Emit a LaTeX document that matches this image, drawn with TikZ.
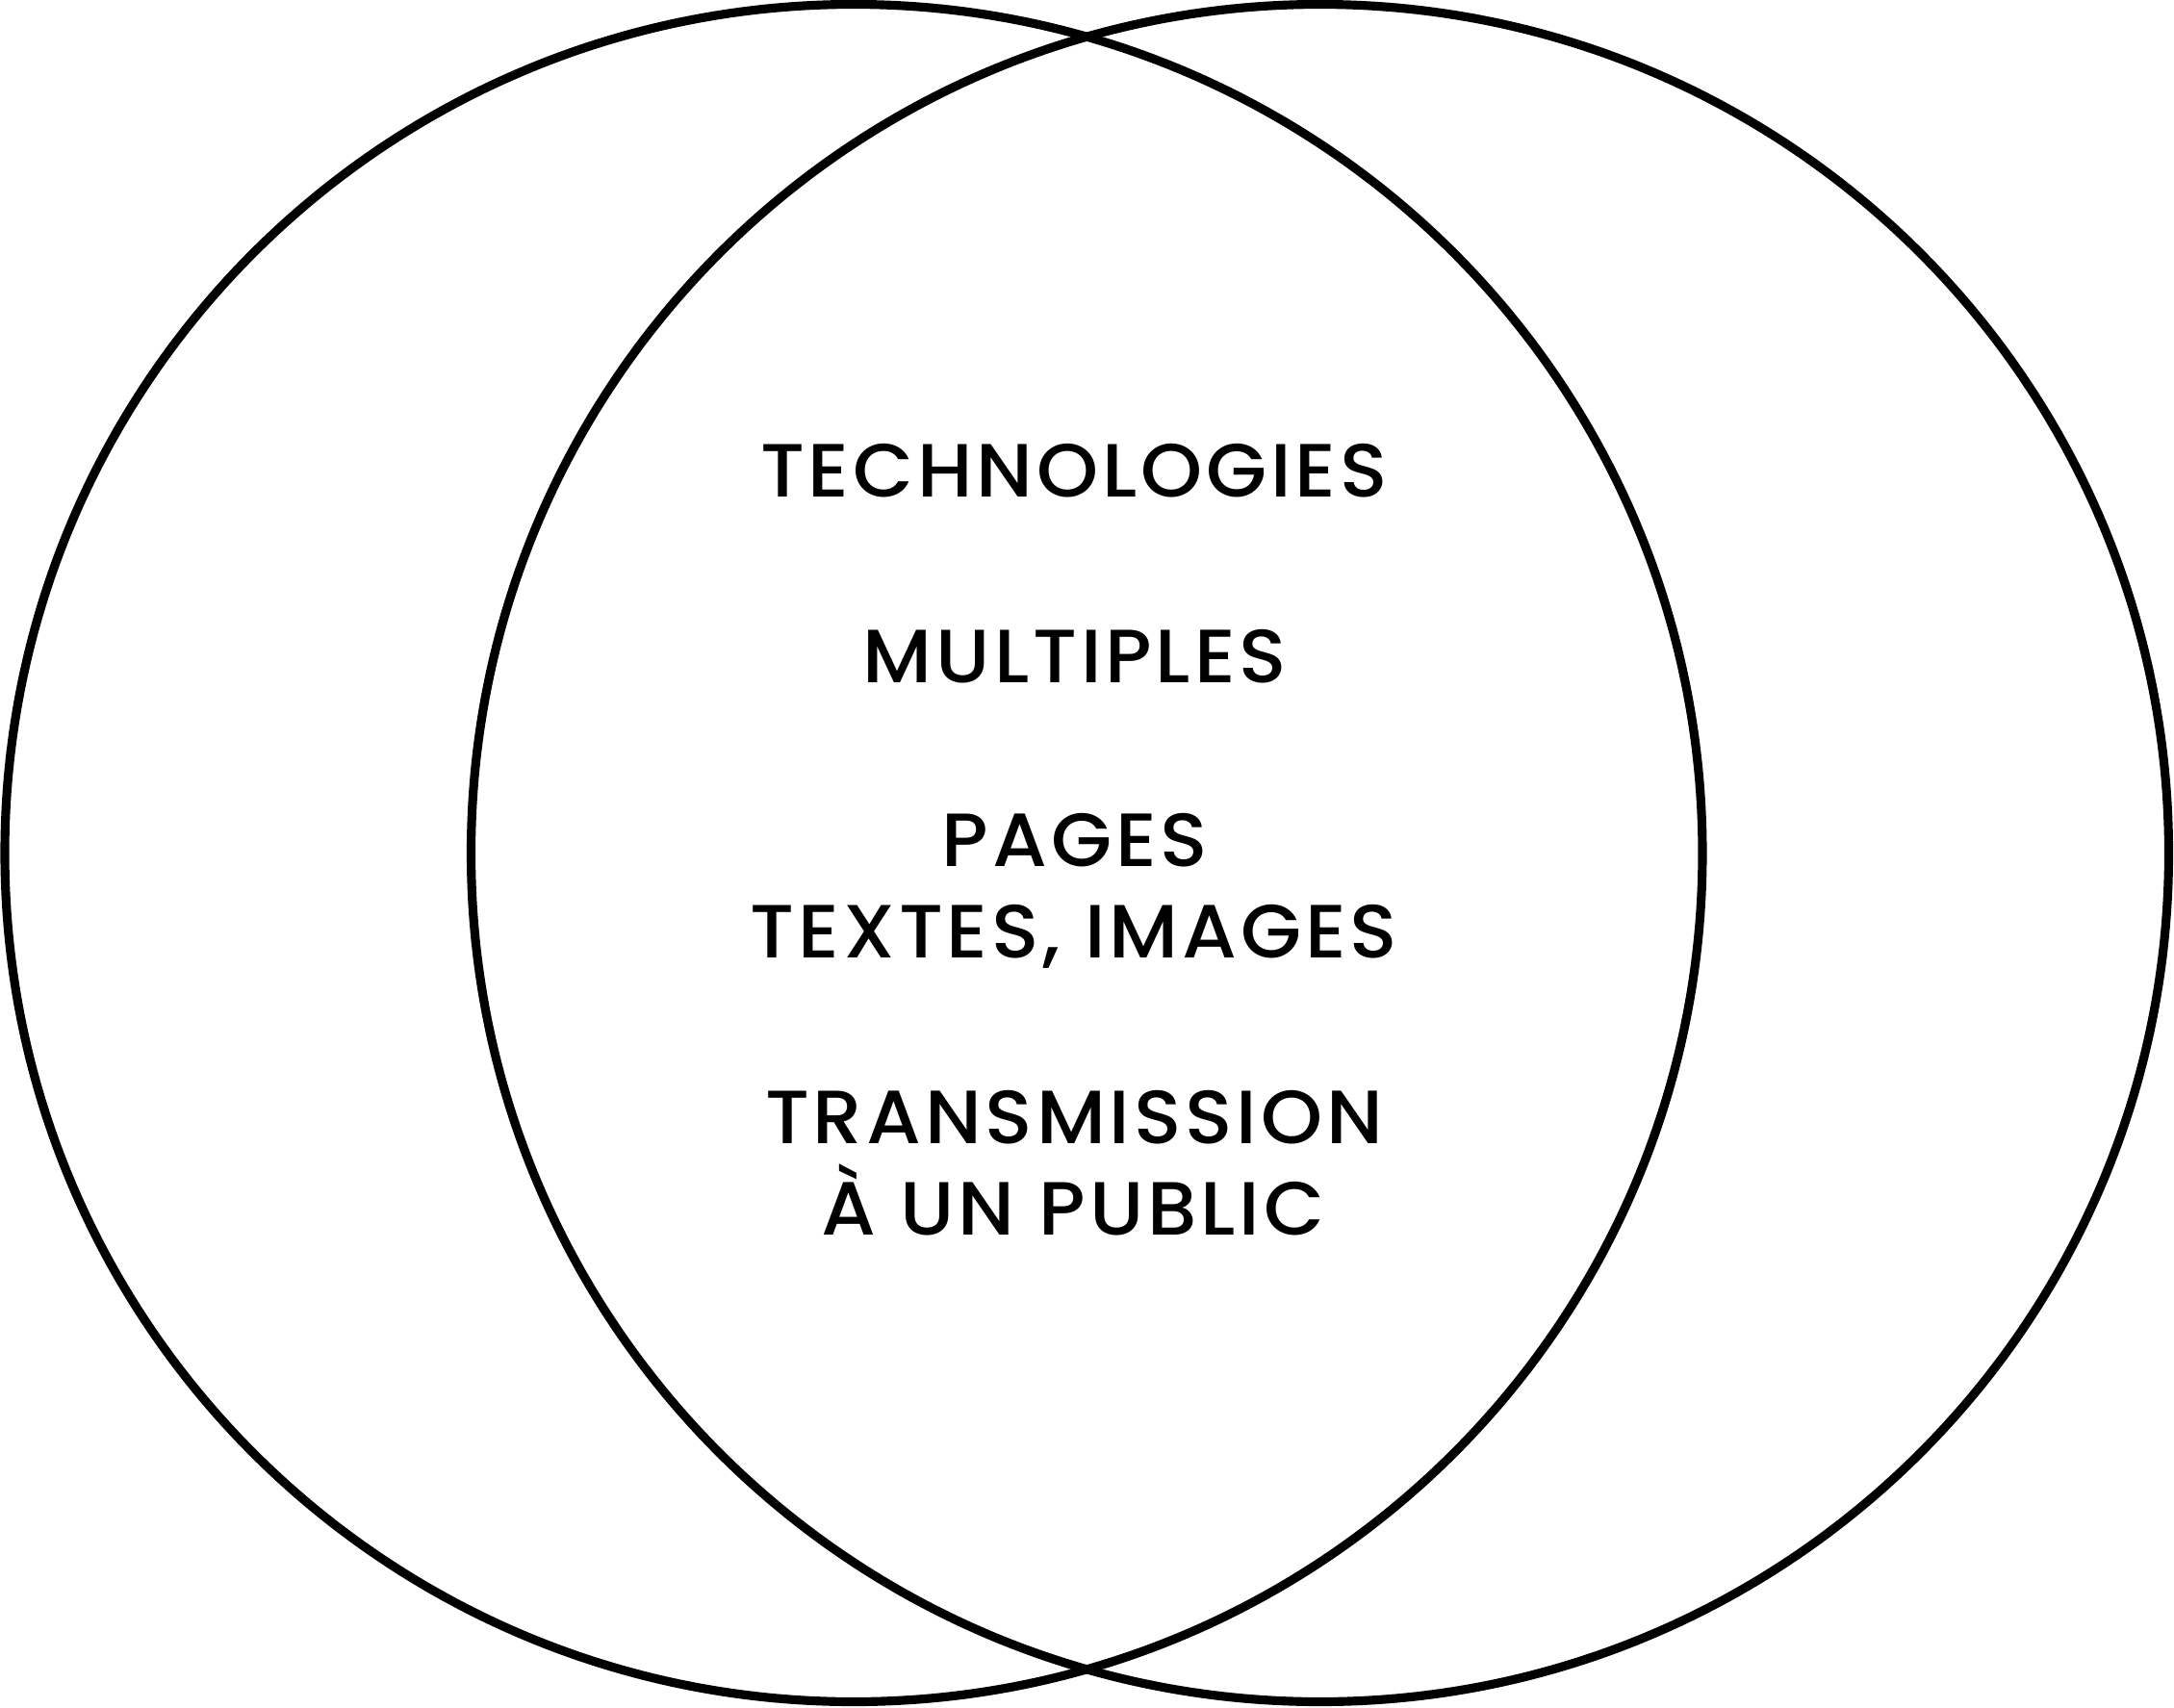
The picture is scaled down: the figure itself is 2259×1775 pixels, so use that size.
\documentclass[tikz,border=0pt]{standalone}
\usepackage{fontspec}
\setmainfont{Poppins}[UprightFont={* Medium}, LetterSpace=5, FakeStretch=1.04]
\begin{document}
\begin{tikzpicture}[x=0.01cm,y=-0.01cm,
  ring/.style={line width=2.6pt, draw=black},
  lbl/.style={anchor=base, inner sep=0pt, font=\fontsize{22.3}{26}\selectfont}]
\useasboundingbox (0,0) rectangle (2259,1775);
\coordinate (cl) at (887,886.5);
\coordinate (cr) at (1371.5,886.5);
\draw[ring] (cl) circle (882);
\draw[ring] (cr) circle (882);
\node[lbl] (t1) at (1116,516) {TECHNOLOGIES};
\node[lbl] (t2) at (1117,709) {MULTIPLES};
\node[lbl] (t3) at (1117,900.5) {PAGES};
\node[lbl] (t4) at (1116,995.5) {TEXTES, IMAGES};
\node[lbl] (t5) at (1116,1188.5) {TRANSMISSION};
\node[lbl] (t6) at (1115,1283.5) {À UN PUBLIC};
\end{tikzpicture}
\end{document}
